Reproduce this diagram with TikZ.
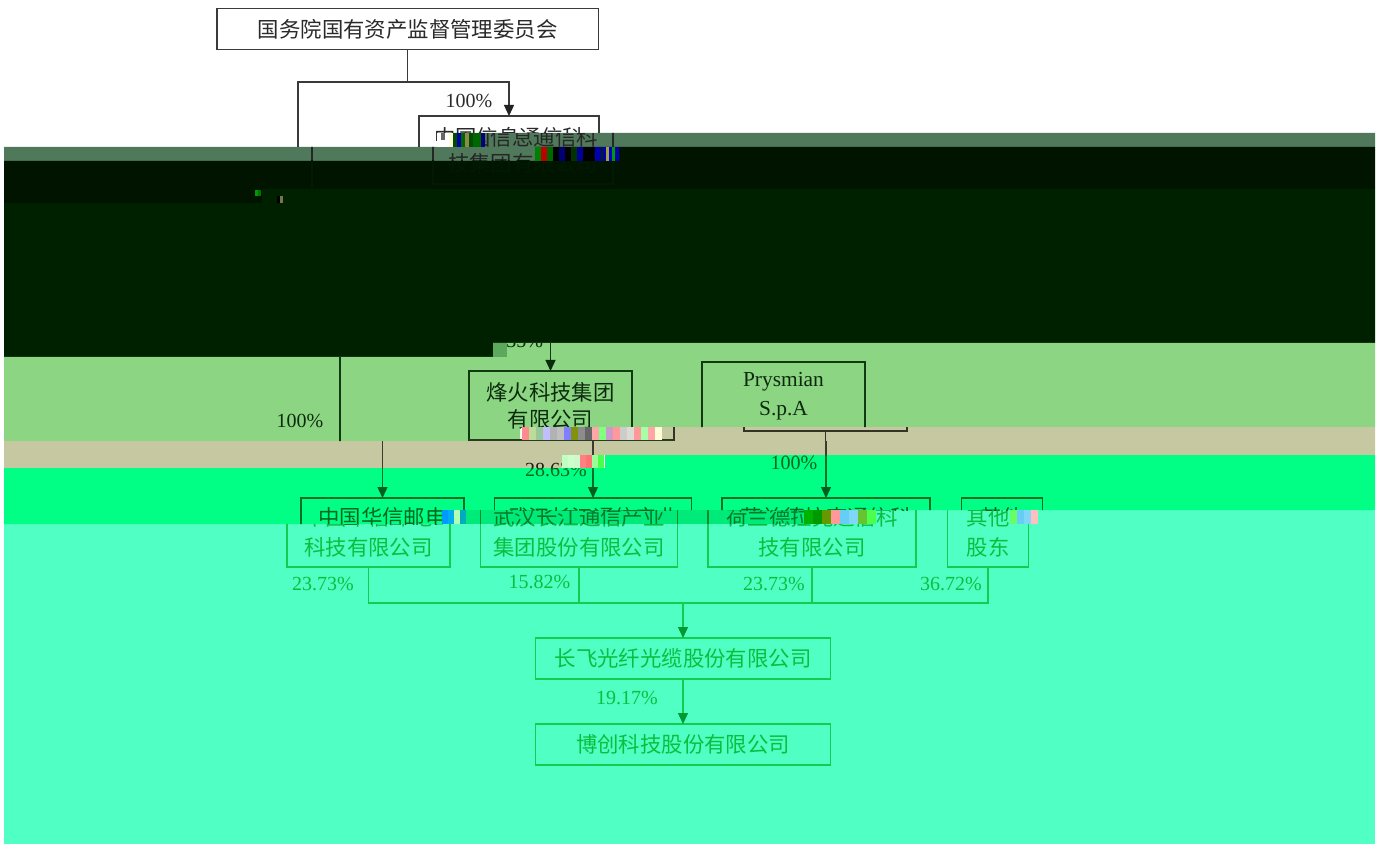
\documentclass[tikz,border=0pt]{standalone}
\usepackage{fontspec}
\setmainfont{Liberation Serif}
\newfontfamily\cjk{Noto Sans CJK SC}
\usetikzlibrary{arrows.meta}
\definecolor{bgrey}{HTML}{50785A}
\definecolor{bblack}{HTML}{001400}
\definecolor{bdark}{HTML}{002100}
\definecolor{blight}{HTML}{8CD583}
\definecolor{btan}{HTML}{C6C8A2}
\definecolor{bspring}{HTML}{00FF84}
\definecolor{bspringd}{HTML}{00EA7A}
\definecolor{bteal}{HTML}{4FFFC3}
\definecolor{bmid}{HTML}{5CA85C}
\definecolor{ln}{HTML}{3A3A3A}
\definecolor{tx}{HTML}{2A2A2A}
\definecolor{tipc}{HTML}{222222}
\tikzset{
  x=0.5pt,y=-0.5pt,
  boxn/.style={draw=ln,line width=.65pt,text=tx,inner sep=0pt,outer sep=0pt,align=center,
    font=\cjk\fontsize{10.7}{15}\selectfont},
  lab/.style={text=tx,inner sep=0pt,outer sep=0pt,font=\fontsize{10}{12}\selectfont},
  conn/.style={draw=ln,line width=.65pt},
  tip/.style={-{Triangle[length=5.5pt,width=5pt,color=tipc,fill=tipc]}}
}
% x0,y0,y1,step,colour list
\newcommand\nz[5]{\foreach \c [count=\i from 0] in {#5}{\fill[\c] ({#1+\i*#4},#2) rectangle ({#1+\i*#4+#4},#3);}}
\newcommand\TopScene{%
  \node[boxn,minimum width=190.75pt,minimum height=20.5pt] (gw) at (407.75,29) {国务院国有资产监督管理委员会};
  \node[boxn,minimum width=90pt,minimum height=34pt,font=\cjk\fontsize{10.7}{13}\selectfont] (xk) at (509,150) {中国信息通信科\\技集团有限公司};
  \coordinate (j) at (407.75,82);
  \coordinate (lf) at (298,200);
  \draw[conn] (gw.south) -- (j);
  \draw[conn] (j) -| (lf);
  \draw[conn,tip] (j) -| (xk.north);
  \node[lab] (p1) at (469,101) {100\%};
}
\newcommand\MidScene{%
  \node[boxn,minimum width=81.5pt,minimum height=34.5pt,font=\cjk\fontsize{10.7}{13.5}\selectfont] (fh) at (550.5,405.5) {烽火科技集团\\有限公司};
  \node[boxn,minimum width=81.5pt,minimum height=34.5pt,font=\fontsize{10.7}{14.5}\selectfont] (pm) at (783.5,396.5) {Prysmian\\S.p.A};
  \coordinate (fa) at (550.5,300);
  \coordinate (ha) at (340,300);
  \coordinate (hb) at (340,470);
  \coordinate (pb) at (783.5,470);
  \draw[conn,tip] (fa) -- (fh.north);
  \draw[conn] (ha) -- (hb);
  \draw[conn] (pm.south) -- (pb);
  \node[lab] (p3) at (300,421) {100\%};
  \node[lab,anchor=east] (p4) at (543,341) {35\%};
}
\newcommand\LowScene{%
  \node[boxn,minimum width=81.5pt,minimum height=34.5pt] (hua) at (368.5,532.5) {中国华信邮电\\科技有限公司};
  \node[boxn,minimum width=98.5pt,minimum height=34.5pt] (wu) at (579,532.5) {武汉长江通信产业\\集团股份有限公司};
  \node[boxn,minimum width=104pt,minimum height=34.5pt] (he) at (812,532.5) {荷兰德拉克通信科\\技有限公司};
  \node[boxn,minimum width=40.5pt,minimum height=34.5pt] (qi) at (988,532.5) {其他\\股东};
  \coordinate (hs) at (368.5,420);
  \coordinate (ws) at (579,420);
  \coordinate (ps) at (812,420);
  \draw[conn,tip] (hs) -- (hua.north);
  \draw[conn,tip] (ws) -- (wu.north);
  \draw[conn,tip] (ps) -- (he.north);
  \node[lab] (p5) at (542,470) {28.63\%};
  \node[lab] (p6) at (780,463) {100\%};
}
\begin{document}
\begin{tikzpicture}
\useasboundingbox (0,0) rectangle (1386,844);
\fill[white] (0,0) rectangle (1386,844);
% ---------- colour bands
\fill[bgrey] (437,133) rectangle (1375,147) (4,147) rectangle (535,161);
\fill[bblack] (535,147) rectangle (1375,189) (4,161) rectangle (535,189) (4,189) rectangle (262,203);
\fill[bdark] (262,189) rectangle (1375,343) (4,203) rectangle (262,357) (262,343) rectangle (493,357);
\fill[blight] (493,343) rectangle (1375,427) (4,357) rectangle (493,441) (493,427) rectangle (520,441);
\fill[btan] (660,427) rectangle (1375,455) (4,441) rectangle (660,455) (4,455) rectangle (562,468);
\fill[bteal] (4,510) rectangle (1375,844);
\fill[bspring] (4,468) rectangle (1375,510) (605,455) rectangle (1375,468) (4,510) rectangle (442,524);
\fill[bspringd] (465,510) rectangle (804,524);
\fill[bmid] (493,343) rectangle (507,357);
% ---------- top: white slice
\begin{scope}
  \clip (0,0) rectangle (1386,133) (0,133) rectangle (437,147);
  \TopScene
\end{scope}
% grey slice, shifted
\begin{scope}
  \clip (437,133) rectangle (1375,147) (4,147) rectangle (535,161);
  \begin{scope}[shift={(14,0)}]
    \colorlet{ln}{black!85}\colorlet{tx}{black!85}
    \TopScene
  \end{scope}
\end{scope}
% black slice, shifted: the content barely shows
\begin{scope}
  \clip (4,161) rectangle (1375,189);
  \begin{scope}[shift={(14,0)}]
    \definecolor{ln}{HTML}{021A02}\definecolor{tx}{HTML}{021A02}
    \TopScene
  \end{scope}
\end{scope}
% ---------- light green slice
\begin{scope}
  \clip (493,343) rectangle (1375,427) (4,357) rectangle (493,427) (4,427) rectangle (520,441);
  \definecolor{ln}{HTML}{123A12}\definecolor{tx}{HTML}{0C2A0C}\definecolor{tipc}{HTML}{0C2A0C}
  \MidScene
\end{scope}
\begin{scope}
  \clip (660,427) rectangle (1375,441);
  \begin{scope}[shift={(42,0)}]
    \definecolor{ln}{HTML}{333326}\definecolor{tx}{HTML}{333326}
    \MidScene
  \end{scope}
\end{scope}
\draw[line width=.65pt,color={rgb,255:red,40;green,60;blue,30}] (469,440) -- (674,440);
% ---------- tan slice
\begin{scope}
  \clip (4,441) rectangle (660,455) (4,455) rectangle (562,468) (660,441) rectangle (1375,455);
  \begin{scope}[shift={(14,0)}]
    \definecolor{ln}{HTML}{3C3C2C}\definecolor{tx}{HTML}{1C1C12}
    \LowScene
  \end{scope}
\end{scope}
% spring-green slice
\begin{scope}
  \clip (4,468) rectangle (1375,510) (605,455) rectangle (1375,468) (4,510) rectangle (442,524);
  \begin{scope}[shift={(14,0)}]
    \definecolor{ln}{HTML}{006E24}\definecolor{tx}{HTML}{00661F}\definecolor{tipc}{HTML}{005E1E}
    \LowScene
  \end{scope}
\end{scope}
% darker spring slice
\begin{scope}
  \clip (465,510) rectangle (804,524);
  \definecolor{ln}{HTML}{00882C}\definecolor{tx}{HTML}{007A28}\definecolor{tipc}{HTML}{006E24}
  \LowScene
\end{scope}
% ---------- teal slice
\begin{scope}
  \clip (4,524) rectangle (1375,844) (870,510) rectangle (1375,524);
  \definecolor{ln}{HTML}{14CC50}\definecolor{tx}{HTML}{0CBE3E}\definecolor{tipc}{HTML}{009A30}
  \LowScene
  \node[boxn,minimum width=147.5pt,minimum height=20.5pt] (cf) at (683,658.5) {长飞光纤光缆股份有限公司};
  \node[boxn,minimum width=147.5pt,minimum height=20.5pt] (bc) at (683,744.5) {博创科技股份有限公司};
  \coordinate (bus) at (683,603);
  \draw[conn] (hua.south) |- (bus);
  \draw[conn] (qi.south) |- (bus);
  \draw[conn] (wu.south) -- (wu.south|-bus);
  \draw[conn] (he.south) -- (he.south|-bus);
  \draw[conn,tip] (bus) -- (cf.north);
  \draw[conn,tip] (cf.south) -- (bc.north);
  \node[lab] (p7) at (323,584) {23.73\%};
  \node[lab] (p8) at (539.5,582) {15.82\%};
  \node[lab] (p9) at (774,584) {23.73\%};
  \node[lab] (p10) at (951,584) {36.72\%};
  \node[lab] (p11) at (627,698) {19.17\%};
\end{scope}
% ---------- decoded-noise patches
\nz{437}{133}{147}{4}{white,black!60,white,yellow!15,black!70!green,blue!70!black,green!40!black,yellow!50!black,green!30!black,black!60!green,black!60!green,blue!50!black}
\fill[white] (437,140) rectangle (447,147);
\nz{535}{147}{161}{6}{green!50!black,red!75!black,green!40!black,black,blue!45!black,black,green!20!black,blue!60!black,black,black,blue!70!black,green!15!black,black,blue!80!black}
\nz{603}{147}{161}{3}{blue!70!black,yellow!60!black,blue!80!black,green!60!black,blue!70!black}
\nz{255}{190}{196}{3}{green!60!black,green!45!black}
\nz{277}{196}{203}{3}{black,yellow!40!black}
\nz{522}{427}{440}{7}{red!45!white,red!35!green!40!white,green!45!black!40!white,blue!25!white,black!30!white,black!25!white,blue!50!white,olive!80!green,black!45!white,black!60!white,red!35!white,green!50!white,red!50!blue!40!white,red!40!white,black!20!white,yellow!20!black!20!white,red!40!white,green!35!white,red!35!white,yellow!15!white}
\nz{562}{455}{468}{6}{green!25!white,green!20!white,black!10!green!20!white,red!50!white,red!55!white,green!40!white,green!70!white}
\nz{442}{510}{524}{6}{blue!40!cyan,cyan,white!70!green,cyan!70!green}
\nz{804}{510}{524}{9}{green!70!black,green!60!black,red!40!green,red!40!white,cyan!60!white,cyan!50!white,yellow!40!green,green!70!white}
\nz{1010}{510}{524}{7}{green!60!white,cyan!60!white,cyan!50!white,red!25!white}
\end{tikzpicture}
\end{document}
